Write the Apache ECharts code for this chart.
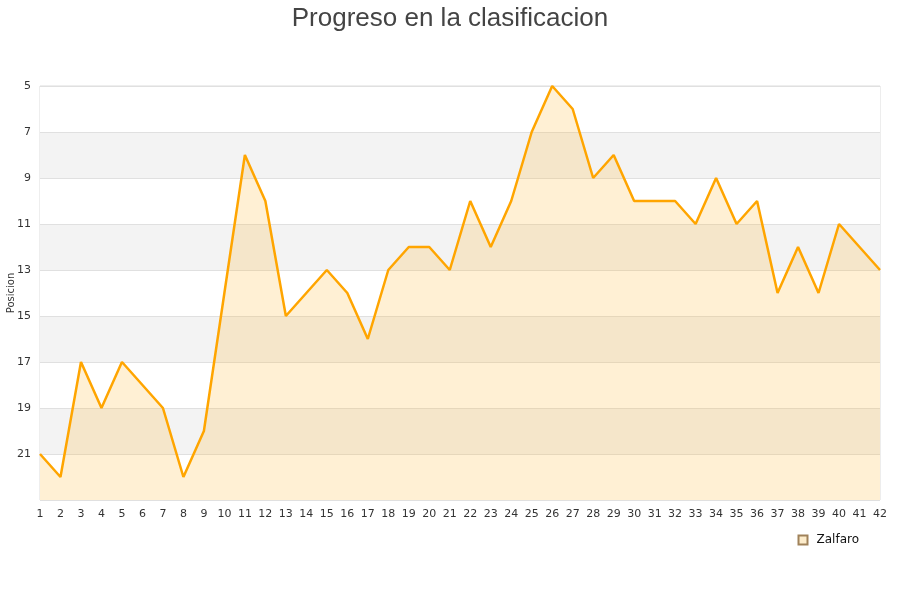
<!DOCTYPE html>
<html>
<head>
<meta charset="utf-8">
<script src="https://cdn.jsdelivr.net/npm/echarts@6/dist/echarts.min.js"></script>
<style>
  html, body { margin: 0; padding: 0; background: #fff; }
  #chart { width: 900px; height: 600px; }
</style>
</head>
<body>
<div id="chart"></div>
<script>
// jornadas 1..42
const jornadas = [];
for (let j = 1; j <= 42; j++) jornadas.push(String(j));

// posicion de Zalfaro en cada jornada
const posiciones = [
  21, 22, 17, 19, 17, 18, 19, 22, 20, 14,
  8, 10, 15, 14, 13, 14, 16, 13, 12, 12,
  13, 10, 12, 10, 7, 5, 6, 9, 8, 10,
  10, 10, 11, 9, 11, 10, 14, 12, 14, 11,
  12, 13
];

const equipo = 'Zalfaro';

let option = {
    animation: false,
    title: {
        text: 'Progreso en la clasificacion',
        left: 'center',
        top: 1,
        textStyle: {
            fontFamily: 'Liberation Sans',
            fontSize: 26,
            fontWeight: 'normal',
            color: '#444'
        }
    },
    grid: {
        left: 40,
        right: 20,
        top: 86,
        bottom: 100,
        containLabel: false,
        outerBoundsMode: 'none',
        show: true,
        borderColor: '#dcdcdc',
        borderWidth: 1,
        backgroundColor: 'transparent'
    },
    legend: {
        data: [{ name: equipo, icon: 'rect' }],
        right: 36,
        top: 529,
        itemWidth: 9,
        itemHeight: 9,
        textStyle: { fontFamily: 'DejaVu Sans', fontSize: 12, color: '#111', padding: [0, 0, 0, 4] }
    },
    xAxis: {
        type: 'category',
        boundaryGap: false,
        data: jornadas,
        axisLine: { show: false },
        axisTick: { show: false },
        axisLabel: {
            interval: 0,
            margin: 9,
            fontFamily: 'DejaVu Sans',
            fontSize: 11,
            color: '#333'
        }
    },
    yAxis: {
        type: 'value',
        inverse: true,
        min: 5,
        max: 23,
        interval: 2,
        name: 'Posicion',
        nameLocation: 'middle',
        nameGap: 24,
        nameMoveOverlap: false,
        nameTextStyle: { fontFamily: 'DejaVu Sans', fontSize: 10, color: '#333' },
        axisLine: { show: false },
        axisTick: { show: false },
        axisLabel: {
            showMaxLabel: false,
            margin: 9,
            fontFamily: 'DejaVu Sans',
            fontSize: 11,
            color: '#333'
        },
        splitLine: { show: true, lineStyle: { color: '#e0e0e0' } },
        splitArea: { show: true, areaStyle: { color: ['#ffffff', '#f3f3f3'] } }
    },
    series: [{
        name: equipo,
        type: 'line',
        data: posiciones,
        symbol: 'none',
        lineStyle: { color: '#ffa500', width: 2.5 },
        itemStyle: { color: '#fdeccb', borderColor: '#a0825a', borderWidth: 1 },
        areaStyle: { color: 'rgba(255,185,50,0.3)', origin: 'end' }
    }]
};

let myChart = echarts.init(document.getElementById('chart'));
myChart.setOption(option);
</script>
</body>
</html>
